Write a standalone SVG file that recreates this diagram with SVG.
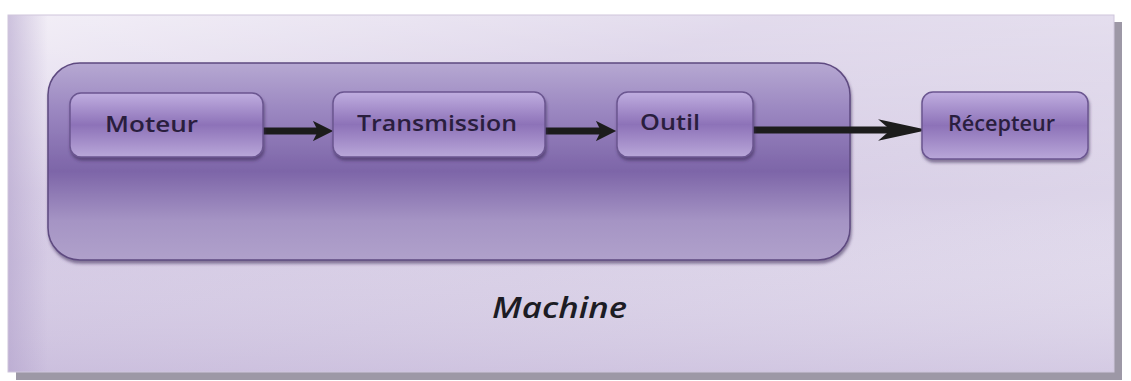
<svg xmlns="http://www.w3.org/2000/svg" width="1131" height="381" viewBox="0 0 1131 381">
<defs>
<linearGradient id="panelG" x1="0" y1="0" x2="1" y2="1">
<stop offset="0" stop-color="#ece6f3"/>
<stop offset="0.35" stop-color="#d3c8e3"/>
<stop offset="0.6" stop-color="#d8cfe6"/>
<stop offset="1" stop-color="#e4deee"/>
</linearGradient>
<linearGradient id="panelV" x1="0" y1="0" x2="0" y2="1">
<stop offset="0" stop-color="#ffffff" stop-opacity="0.35"/>
<stop offset="0.5" stop-color="#ffffff" stop-opacity="0"/>
<stop offset="1" stop-color="#b7a6d0" stop-opacity="0.35"/>
</linearGradient>
<linearGradient id="panelL" x1="0" y1="0" x2="1" y2="0">
<stop offset="0" stop-color="#b3a3cc" stop-opacity="0.6"/>
<stop offset="1" stop-color="#b3a3cc" stop-opacity="0"/>
</linearGradient>
<linearGradient id="machG" x1="0" y1="0" x2="0" y2="1">
<stop offset="0" stop-color="#b6a8d2"/>
<stop offset="0.25" stop-color="#9a86c0"/>
<stop offset="0.55" stop-color="#7d65a8"/>
<stop offset="0.8" stop-color="#a594c4"/>
<stop offset="1" stop-color="#b0a1cb"/>
</linearGradient>
<linearGradient id="nodeG" x1="0" y1="0" x2="0" y2="1">
<stop offset="0" stop-color="#c0aee0"/>
<stop offset="0.5" stop-color="#8d72b8"/>
<stop offset="1" stop-color="#b9a7d9"/>
</linearGradient>
<filter id="sh" x="-10%" y="-10%" width="130%" height="140%">
<feDropShadow dx="1" dy="3" stdDeviation="1.5" flood-color="#3a2a55" flood-opacity="0.55"/>
</filter>
<marker id="ah" viewBox="0 0 10 10" refX="4" refY="5" markerWidth="3.3" markerHeight="2.9" markerUnits="strokeWidth" orient="auto">
<path d="M0,0 L10,5 L0,10 L2.5,5 Z" fill="#1c1c1c"/>
</marker>
<marker id="ahLong" viewBox="0 0 10 10" refX="4" refY="5" markerWidth="7.1" markerHeight="3.1" markerUnits="strokeWidth" orient="auto" preserveAspectRatio="none">
<path d="M0,0 L10,5 L0,10 L2.5,5 Z" fill="#1c1c1c"/>
</marker>
<style>
.node{fill:url(#nodeG);stroke:#6b5690;stroke-width:1.5;filter:url(#sh)}
.lbl{font-family:"Open Sans","Liberation Sans",sans-serif;font-weight:600;font-size:22px;fill:#2a1e3e}
.con{stroke:#1c1c1c;stroke-width:7;fill:none}
</style>
</defs>
<rect x="16" y="22" width="1106" height="358" fill="#9d98a6"/>
<rect id="panel" x="8" y="15" width="1106" height="357" fill="url(#panelG)"/>
<rect x="8" y="15" width="1106" height="357" fill="url(#panelV)"/>
<rect x="8" y="15" width="40" height="357" fill="url(#panelL)"/>
<rect x="8" y="15" width="1106" height="357" fill="none" stroke="#cfc6dc" stroke-width="1"/>
<g id="machine">
<rect x="48" y="63" width="802" height="197" rx="32" fill="url(#machG)" stroke="#5e4a80" stroke-width="1.5" filter="url(#sh)"/>
<text x="492" y="318" textLength="135" lengthAdjust="spacingAndGlyphs" font-family="'Open Sans','Liberation Sans',sans-serif" font-style="italic" font-weight="600" font-size="29" fill="#1c1c24">Machine</text>
</g>
<g id="connectors">
<line class="con" x1="262" y1="131" x2="321" y2="131" marker-end="url(#ah)"/>
<line class="con" x1="545" y1="131" x2="604" y2="131" marker-end="url(#ah)"/>
<line class="con" x1="752" y1="130" x2="898" y2="130" marker-end="url(#ahLong)"/>
</g>
<g id="moteur">
<rect class="node" x="70" y="93" width="193" height="64" rx="11"/>
<text class="lbl" x="105" y="132" textLength="93" lengthAdjust="spacingAndGlyphs">Moteur</text>
</g>
<g id="transmission">
<rect class="node" x="333" y="92" width="212" height="65" rx="11"/>
<text class="lbl" x="357" y="131" textLength="160" lengthAdjust="spacingAndGlyphs">Transmission</text>
</g>
<g id="outil">
<rect class="node" x="617" y="92" width="136" height="65" rx="11"/>
<text class="lbl" x="640" y="130" textLength="60" lengthAdjust="spacingAndGlyphs">Outil</text>
</g>
<g id="recepteur">
<rect class="node" x="922" y="92" width="166" height="67" rx="11"/>
<text class="lbl" x="948" y="131" textLength="107" lengthAdjust="spacingAndGlyphs">Récepteur</text>
</g>
</svg>
